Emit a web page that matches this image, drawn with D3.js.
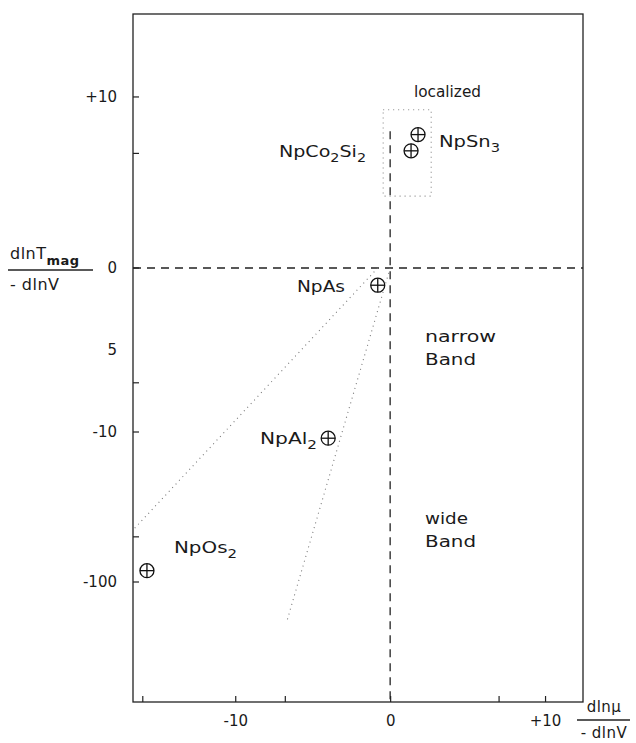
<!DOCTYPE html>
<html>
<head>
	<title>Np compounds</title>
	<script src="https://d3js.org/d3.v7.min.js" charset="utf-8"></script>
	<style>
		body { margin: 0; background: #fff; }
		text { font-family: "DejaVu Sans", sans-serif; fill: #1a1a1a; }
	</style>
</head>
<body>
	<svg width="636" height="743"></svg>
	<script>
		// compounds: x = dln mu / -dlnV , y = dlnTmag / -dlnV
		const names = ["NpSn3", "NpCo2Si2", "NpAs", "NpAl2", "NpOs2"];
		const xValues = [1.8, 1.35, -0.8, -4.0, -15.7];
		const yValues = [7.8, 6.85, -1.05, -11, -84];

		const xTicks = [-16, -10, -6.8, 0, 7, 10];
		const xTickLabels = {"-10": "-10", "0": "0", "10": "+10"};
		const yTicks = [10, 6.7, 0, -7, -10, -50, -100];
		const yLabelValues = [10, 0, -5, -10, -100];
		const yLabelTexts = ["+10", "0", "5", "-10", "-100"];

		// guide lines (data coords)
		const fanA = [[-0.8, 0], [-16.6, -45]];
		const fanB = [[0, 0], [-6.65, -180]];
		const boxX = [-0.45, 2.65];
		const boxY = [4.2, 9.25];

		const pLeft = 133, pRight = 583, pTop = 14, pBottom = 702;
		var svg = d3.select('svg');

		var x = d3.scaleLinear().domain([-16.6, 12.45]).range([pLeft, pRight]);
		// y axis: linear above -10, logarithmic below
		var yLin = d3.scaleLinear().domain([-10, 0, 14.85]).range([432, 268, pTop]);
		var yLog = d3.scaleLog().domain([10, 631]).range([432, pBottom]);
		function y(v) { return v >= -10 ? yLin(v) : yLog(-v); }

		// frame
		svg.append('rect')
			.attr('x', pLeft).attr('y', pTop)
			.attr('width', pRight - pLeft).attr('height', pBottom - pTop)
			.attr('fill', 'none').attr('stroke', '#222').attr('stroke-width', 1.3);

		// x axis ticks
		var xAxis = svg.append('g')
			.attr('transform', 'translate(0,' + pBottom + ')')
			.call(d3.axisBottom(x)
				.tickValues(xTicks)
				.tickSizeInner(-6).tickSizeOuter(0)
				.tickPadding(13)
				.tickFormat(function(d) { return xTickLabels[String(d)] || ""; }));
		xAxis.select('.domain').remove();
		xAxis.selectAll('line').attr('stroke', '#222').attr('stroke-width', 1.2);
		xAxis.selectAll('text')
			.style('font-family', '"DejaVu Sans", sans-serif')
			.style('font-size', '15px').attr('fill', '#1a1a1a');

		// y axis ticks
		svg.selectAll('.ytick')
			.data(yTicks)
			.enter()
			.append('line')
			.attr('class', 'ytick')
			.attr('x1', pLeft).attr('x2', pLeft + 6)
			.attr('y1', function(d) { return y(d); })
			.attr('y2', function(d) { return y(d); })
			.attr('stroke', '#222').attr('stroke-width', 1.2);

		svg.selectAll('.ylab')
			.data(yLabelValues)
			.enter()
			.append('text')
			.attr('class', 'ylab')
			.attr('x', 117)
			.attr('y', function(d) { return y(d); })
			.attr('dy', '0.36em')
			.attr('text-anchor', 'end')
			.style('font-size', '15px')
			.text(function(d, i) { return yLabelTexts[i]; });

		// dashed quadrant lines
		svg.append('line')
			.attr('x1', x(-16.6)).attr('x2', x(12.45))
			.attr('y1', y(0)).attr('y2', y(0))
			.attr('stroke', '#222').attr('stroke-width', 1.3)
			.attr('stroke-dasharray', '8,6');
		svg.append('line')
			.attr('x1', x(0)).attr('x2', x(0))
			.attr('y1', y(8)).attr('y2', pBottom)
			.attr('stroke', '#222').attr('stroke-width', 1.3)
			.attr('stroke-dasharray', '8,6');

		// dotted fan lines and box
		[fanA, fanB].forEach(function(f) {
			svg.append('line')
				.attr('x1', x(f[0][0])).attr('y1', y(f[0][1]))
				.attr('x2', x(f[1][0])).attr('y2', y(f[1][1]))
				.attr('stroke', '#777').attr('stroke-width', 1.1)
				.attr('stroke-dasharray', '1,4');
		});
		svg.append('rect')
			.attr('x', x(boxX[0])).attr('y', y(boxY[1]))
			.attr('width', x(boxX[1]) - x(boxX[0]))
			.attr('height', y(boxY[0]) - y(boxY[1]))
			.attr('fill', 'none')
			.attr('stroke', '#888').attr('stroke-width', 1.1)
			.attr('stroke-dasharray', '1,4');

		// markers
		var pts = svg.selectAll('.pt')
			.data(names)
			.enter()
			.append('g')
			.attr('class', 'pt')
			.attr('transform', function(d, i) { return 'translate(' + x(xValues[i]) + ',' + y(yValues[i]) + ')'; });
		pts.append('circle').attr('r', 7).attr('fill', 'white').attr('stroke', '#111').attr('stroke-width', 1.3);
		pts.append('line').attr('x1', -7).attr('x2', 7).attr('stroke', '#111').attr('stroke-width', 1.3);
		pts.append('line').attr('y1', -7).attr('y2', 7).attr('stroke', '#111').attr('stroke-width', 1.3);

		// chemical labels with subscripts
		function chem(px, py, len, parts) {
			var t = svg.append('text').attr('x', px).attr('y', py)
				.attr('textLength', len).attr('lengthAdjust', 'spacingAndGlyphs')
				.style('font-size', '16px');
			var down = false;
			parts.forEach(function(p) {
				var s = t.append('tspan').text(p[0]);
				if (p[1]) { s.attr('dy', 5).style('font-size', '12px'); down = true; }
				else if (down) { s.attr('dy', -5); down = false; }
			});
		}
		chem(279, 157, 87, [["NpCo"], ["2", 1], ["Si"], ["2", 1]]);
		chem(439, 147, 61, [["NpSn"], ["3", 1]]);
		chem(297, 292, 48, [["NpAs"]]);
		chem(260, 444, 57, [["NpAl"], ["2", 1]]);
		chem(174, 553, 63, [["NpOs"], ["2", 1]]);

		// region labels
		function label(px, py, len, s) {
			svg.append('text').attr('x', px).attr('y', py)
				.attr('textLength', len).attr('lengthAdjust', 'spacingAndGlyphs')
				.style('font-size', '16px').text(s);
		}
		label(414, 97, 67, "localized");
		label(425, 342, 71, "narrow");
		label(425, 365, 51, "Band");
		label(425, 524, 43, "wide");
		label(425, 547, 51, "Band");

		// axis titles as fractions
		var yt = svg.append('text').attr('x', 10).attr('y', 259).style('font-size', '16px').style('letter-spacing', '0.5px');
		yt.append('tspan').text('dlnT');
		yt.append('tspan').attr('dy', 6).style('font-size', '13px').style('font-weight', 'bold').text('mag');
		svg.append('line').attr('x1', 8).attr('x2', 93).attr('y1', 270).attr('y2', 270).attr('stroke', '#222').attr('stroke-width', 1.3);
		svg.append('text').attr('x', 10).attr('y', 290).style('font-size', '16px').style('letter-spacing', '0.5px').text('- dlnV');

		svg.append('text').attr('x', 604).attr('y', 712).attr('text-anchor', 'middle').style('font-size', '15px').style('letter-spacing', '0.5px').text('dlnμ');
		svg.append('line').attr('x1', 577).attr('x2', 630).attr('y1', 720).attr('y2', 720).attr('stroke', '#222').attr('stroke-width', 1.3);
		svg.append('text').attr('x', 604).attr('y', 738).attr('text-anchor', 'middle').style('font-size', '15px').style('letter-spacing', '0.5px').text('- dlnV');
	</script>
</body>
</html>
